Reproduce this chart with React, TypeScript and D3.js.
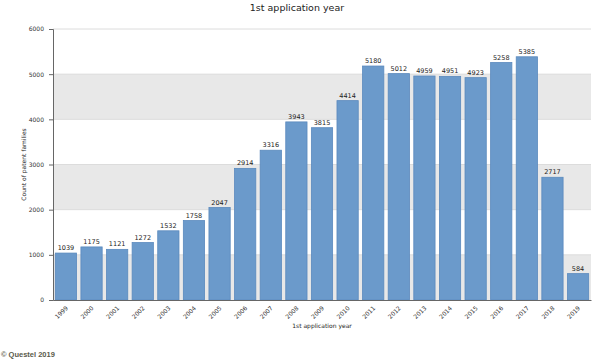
import { useRef, useEffect } from 'react';
import * as d3 from 'd3';

const years = ['1999', '2000', '2001', '2002', '2003', '2004', '2005', '2006', '2007', '2008', '2009',
  '2010', '2011', '2012', '2013', '2014', '2015', '2016', '2017', '2018', '2019'];
const counts = [1039, 1175, 1121, 1272, 1532, 1758, 2047, 2914, 3316, 3943, 3815,
  4414, 5180, 5012, 4959, 4951, 4923, 5258, 5385, 2717, 584];
const yTicks = [0, 1000, 2000, 3000, 4000, 5000, 6000];

function App() {
  const ref = useRef<SVGSVGElement>(null);

  useEffect(() => {
    const svg = d3.select(ref.current);
    svg.selectAll('*').remove();

    const W = 594, H = 360;
    const m = { top: 29, right: 3, bottom: 60, left: 53 };
    const font = 'Verdana, "DejaVu Sans", sans-serif';

    const x = d3.scaleBand().domain(years).range([m.left, W - m.right]).paddingInner(0.17).paddingOuter(0.09);
    const y = d3.scaleLinear().domain([0, 6000]).range([H - m.bottom, m.top]);

    // alternating bands
    const bands = yTicks.slice(0, -1).filter((_, i) => i % 2 === 0);
    svg.append('g').selectAll('rect').data(bands).enter().append('rect')
      .attr('x', m.left).attr('width', W - m.right - m.left)
      .attr('y', d => y(d + 1000)).attr('height', d => y(d) - y(d + 1000))
      .attr('fill', '#e8e8e8');

    svg.append('g').selectAll('line').data(yTicks.slice(1)).enter().append('line')
      .attr('x1', m.left).attr('x2', W - m.right)
      .attr('y1', d => y(d)).attr('y2', d => y(d))
      .attr('stroke', '#dcdcdc').attr('stroke-width', 1);

    svg.append('g').selectAll('rect').data(counts).enter().append('rect')
      .attr('x', (_, i) => x(years[i])!)
      .attr('width', x.bandwidth())
      .attr('y', d => y(d))
      .attr('height', d => y(0) - y(d))
      .attr('fill', '#6b9acb')
      .attr('stroke', '#5a89bd').attr('stroke-width', 0.8);

    svg.append('g').selectAll('text').data(counts).enter().append('text')
      .attr('x', (_, i) => x(years[i])! + x.bandwidth() / 2)
      .attr('y', d => y(d) - 3)
      .attr('text-anchor', 'middle')
      .attr('font-family', font).attr('font-size', 6.5).attr('fill', '#222')
      .text(d => d);

    const yAxis = svg.append('g')
      .attr('transform', `translate(${m.left},0)`)
      .call(d3.axisLeft(y).tickValues(yTicks).tickFormat(d3.format('d')).tickSize(4).tickPadding(5));
    yAxis.selectAll('text').attr('font-family', font).attr('font-size', 6).attr('fill', '#333');
    yAxis.select('.domain').attr('stroke', '#666');
    yAxis.selectAll('.tick line').attr('stroke', '#666');

    const xAxis = svg.append('g')
      .attr('transform', `translate(0,${y(0)})`)
      .call(d3.axisBottom(x).tickSize(0).tickSizeOuter(0));
    xAxis.select('.domain').attr('stroke', '#666');
    xAxis.selectAll('text')
      .attr('font-family', font).attr('font-size', 6).attr('fill', '#333')
      .attr('text-anchor', 'end')
      .attr('x', 0).attr('y', 0).attr('dy', '0.35em')
      .attr('transform', 'translate(1,7) rotate(-45)');

    svg.append('text')
      .attr('x', W / 2).attr('y', 11)
      .attr('text-anchor', 'middle')
      .attr('font-family', font).attr('font-size', 9.5).attr('fill', '#222')
      .text('1st application year');

    svg.append('text')
      .attr('x', (m.left + W - m.right) / 2).attr('y', 328)
      .attr('text-anchor', 'middle')
      .attr('font-family', font).attr('font-size', 6).attr('fill', '#222')
      .text('1st application year');

    svg.append('text')
      .attr('transform', `translate(26,${(m.top + H - m.bottom) / 2}) rotate(-90)`)
      .attr('text-anchor', 'middle')
      .attr('font-family', font).attr('font-size', 6).attr('fill', '#222')
      .text('Count of patent families');

    svg.append('text')
      .attr('x', 1).attr('y', 357)
      .attr('font-family', 'Arial, "Liberation Sans", sans-serif').attr('font-size', 7.5)
      .attr('font-weight', 'bold').attr('fill', '#5a5a4a')
      .text('© Questel 2019');
  }, []);

  return (
    <div style={{ position: 'absolute', left: 0, top: 0 }}>
      <svg ref={ref} width={594} height={360} style={{ display: 'block', background: '#fff' }} />
    </div>
  );
}

export default App;
